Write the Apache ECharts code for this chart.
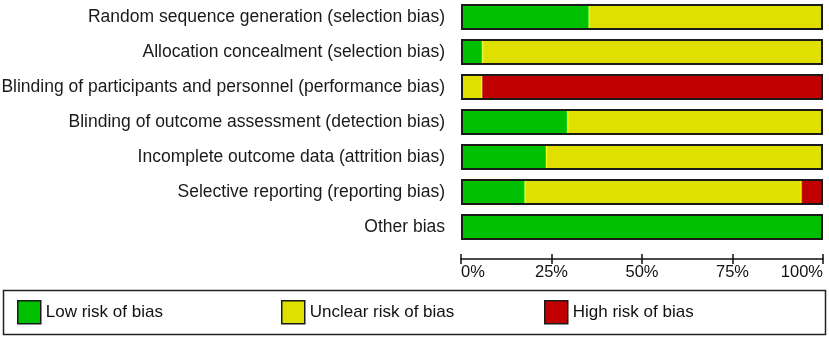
<!DOCTYPE html>
<html>
<head>
<meta charset="utf-8">
<title>Risk of bias graph</title>
<script src="https://cdn.jsdelivr.net/npm/echarts@6/dist/echarts.min.js"></script>
<style>
    html, body { margin: 0; padding: 0; background: #fff; }
    #first { width: 829px; height: 338px; }
</style>
</head>
<body>
<div id="first"></div>
<script>
    // domains, top to bottom
    var categories = [
        'Random sequence generation (selection bias)',
        'Allocation concealment (selection bias)',
        'Blinding of participants and personnel (performance bias)',
        'Blinding of outcome assessment (detection bias)',
        'Incomplete outcome data (attrition bias)',
        'Selective reporting (reporting bias)',
        'Other bias'
    ];
    // percent of studies
    var lowRisk = [35.3, 5.9, 0, 29.4, 23.5, 17.6, 100];
    var unclearRisk = [64.7, 94.1, 5.9, 70.6, 76.5, 76.5, 0];
    var highRisk = [0, 0, 94.1, 0, 0, 5.9, 0];
    var outline = [100, 100, 100, 100, 100, 100, 100];
    var tickLabels = ['0%', '25%', '50%', '75%', '100%'];

    var FONT = '"Liberation Sans", Arial, sans-serif';

    function noZero(arr) {
        return arr.map(function (v) { return v === 0 ? null : v; });
    }

    function riskSeries(name, data, fill, edge) {
        return {
            name: name,
            type: 'bar',
            stack: 'risk',
            barWidth: 26,
            itemStyle: { color: fill, borderColor: edge, borderWidth: 1 },
            emphasis: { disabled: true },
            data: noZero(data)
        };
    }

    function legendAt(left, name) {
        return {
            left: left,
            top: 300,
            padding: 0,
            icon: 'rect',
            itemWidth: 23,
            itemHeight: 23,
            selectedMode: false,
            itemStyle: { borderColor: '#1a1a1a', borderWidth: 1.5 },
            textStyle: { fontFamily: FONT, fontSize: 17, color: '#111' },
            data: [name]
        };
    }

    var myChart = echarts.init(document.getElementById('first'), null, { renderer: 'canvas' });
    var option = {
        animation: false,
        backgroundColor: '#fff',
        grid: { left: 461, right: 6, top: -0.5, height: 245, outerBoundsMode: 'none', containLabel: false },
        legend: [
            legendAt(17, 'Low risk of bias'),
            legendAt(281, 'Unclear risk of bias'),
            legendAt(544, 'High risk of bias')
        ],
        graphic: [{
            type: 'rect',
            shape: { x: 3.5, y: 290.5, width: 822, height: 44 },
            style: { fill: 'none', stroke: '#222', lineWidth: 1.5 },
            silent: true
        }],
        xAxis: [{
            type: 'value',
            min: 0,
            max: 100,
            interval: 25,
            position: 'bottom',
            offset: 14.5,
            splitLine: { show: false },
            axisLine: { show: true, lineStyle: { color: '#111', width: 1.5 } },
            axisTick: { show: true, length: 5, lineStyle: { color: '#111', width: 1.5 } },
            axisLabel: {
                margin: 5,
                fontFamily: FONT,
                fontSize: 16.5,
                color: '#111',
                alignMinLabel: 'left',
                alignMaxLabel: 'right',
                formatter: function (v) { return tickLabels[v / 25]; }
            }
        }, {
            type: 'value',
            min: 0,
            max: 100,
            interval: 25,
            position: 'bottom',
            offset: 14.5,
            splitLine: { show: false },
            axisLine: { show: false },
            axisTick: { show: true, inside: true, length: 5, lineStyle: { color: '#111', width: 1.5 } },
            axisLabel: { show: false }
        }],
        yAxis: [{
            type: 'category',
            inverse: true,
            data: categories,
            axisLine: { show: false },
            axisTick: { show: false },
            axisLabel: { margin: 16, fontFamily: FONT, fontSize: 17.5, color: '#1a1a1a' }
        }],
        series: [
            riskSeries('Low risk of bias', lowRisk, '#00c000', '#10e010'),
            riskSeries('Unclear risk of bias', unclearRisk, '#e0e000', '#ffff10'),
            riskSeries('High risk of bias', highRisk, '#c00000', '#c00000'),
            {
                name: 'outline',
                type: 'bar',
                stack: 'outline',
                barWidth: 26,
                barGap: '-100%',
                z: 3,
                silent: true,
                itemStyle: { color: 'rgba(0,0,0,0)', borderColor: '#1a1a1a', borderWidth: 2 },
                data: outline
            }
        ]
    };
    myChart.setOption(option);
</script>
</body>
</html>
